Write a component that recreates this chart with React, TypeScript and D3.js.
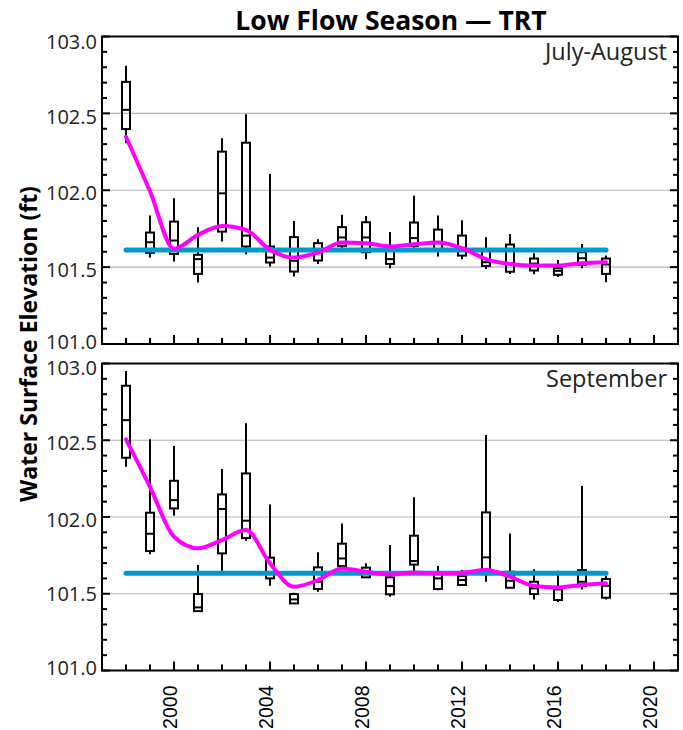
import React from "react";
import * as d3 from "d3";

const years = [1998, 1999, 2000, 2001, 2002, 2003, 2004, 2005, 2006, 2007, 2008, 2009, 2010, 2011, 2012, 2013, 2014, 2015, 2016, 2017, 2018];

// July-August box statistics
const jaMax = [102.81, 101.835, 101.948, 101.76, 102.338, 102.494, 102.106, 101.8, 101.682, 101.841, 101.833, 101.728, 101.965, 101.835, 101.805, 101.695, 101.716, 101.591, 101.547, 101.651, 101.575];
const jaQ3 = [102.705, 101.725, 101.796, 101.58, 102.251, 102.309, 101.634, 101.695, 101.656, 101.76, 101.792, 101.617, 101.79, 101.744, 101.705, 101.608, 101.647, 101.556, 101.493, 101.597, 101.556];
const jaMed = [102.523, 101.662, 101.673, 101.552, 101.98, 101.705, 101.562, 101.541, 101.601, 101.693, 101.693, 101.552, 101.689, 101.662, 101.621, 101.532, 101.526, 101.523, 101.476, 101.558, 101.517];
const jaQ1 = [102.398, 101.593, 101.586, 101.456, 101.731, 101.634, 101.53, 101.471, 101.543, 101.638, 101.597, 101.521, 101.638, 101.608, 101.575, 101.508, 101.47, 101.478, 101.45, 101.515, 101.456];
const jaMin = [102.305, 101.562, 101.536, 101.4, 101.666, 101.584, 101.504, 101.439, 101.52, 101.601, 101.552, 101.493, 101.619, 101.569, 101.552, 101.487, 101.456, 101.454, 101.435, 101.493, 101.402];
const jaSmooth = [102.348, 101.993, 101.62, 101.71, 101.768, 101.742, 101.612, 101.562, 101.595, 101.66, 101.656, 101.634, 101.649, 101.66, 101.623, 101.552, 101.52, 101.51, 101.51, 101.526, 101.532];
const jaRef = 101.612;

// September box statistics
const sepMax = [102.951, 102.506, 102.462, 101.687, 102.312, 102.61, 102.082, 101.507, 101.77, 101.958, 101.698, 101.817, 102.128, 101.68, 101.654, 102.534, 101.893, 101.659, 101.65, 102.202, 101.617];
const sepQ3 = [102.855, 102.028, 102.236, 101.498, 102.147, 102.284, 101.735, 101.498, 101.672, 101.826, 101.67, 101.607, 101.878, 101.637, 101.615, 102.03, 101.643, 101.578, 101.539, 101.654, 101.596];
const sepMed = [102.631, 101.891, 102.11, 101.411, 102.052, 101.976, 101.633, 101.463, 101.578, 101.73, 101.643, 101.55, 101.713, 101.6, 101.589, 101.737, 101.585, 101.535, 101.528, 101.578, 101.552];
const sepQ1 = [102.386, 101.778, 102.056, 101.387, 101.763, 101.863, 101.6, 101.437, 101.531, 101.68, 101.607, 101.496, 101.69, 101.531, 101.557, 101.628, 101.539, 101.498, 101.459, 101.55, 101.474];
const sepMin = [102.327, 101.757, 102.008, 101.387, 101.65, 101.845, 101.552, 101.437, 101.513, 101.654, 101.607, 101.48, 101.648, 101.522, 101.557, 101.578, 101.539, 101.463, 101.446, 101.528, 101.463];
const sepSmooth = [102.506, 102.197, 101.871, 101.796, 101.85, 101.915, 101.698, 101.546, 101.589, 101.665, 101.643, 101.626, 101.639, 101.633, 101.637, 101.654, 101.611, 101.55, 101.541, 101.557, 101.568];
const sepRef = 101.633;

const yTickValues = [101.0, 101.5, 102.0, 102.5, 103.0];
const yMinorValues = d3.range(1010, 1031).map((v) => v / 10);
const xMajorYears = [2000, 2004, 2008, 2012, 2016, 2020];
const xMinorYears = d3.range(1997, 2022);

const title = "Low Flow Season — TRT";
const yTitle = "Water Surface Elevation (ft)";

const W = 683;
const H = 730;
const LEFT = 102;
const RIGHT = 678;

const x = d3.scaleLinear().domain([1997, 2021]).range([LEFT, RIGHT]);

type PanelProps = {
  top: number;
  bottom: number;
  label: string;
  max: number[];
  q3: number[];
  med: number[];
  q1: number[];
  min: number[];
  smooth: number[];
  refVal: number;
  labelOffsets: number[];
};

function Panel(p: PanelProps) {
  const y = d3.scaleLinear().domain([101, 103]).range([p.bottom, p.top]);
  const smoothLine = d3
    .line<number>()
    .x((_, i) => x(years[i]))
    .y((d) => y(d))
    .curve(d3.curveMonotoneX);
  const bw = 8;
  const font = "'Open Sans', sans-serif";
  return (
    <g>
      {yTickValues.slice(1, 4).map((v) => (
        <line key={"g" + v} x1={LEFT} x2={RIGHT} y1={y(v)} y2={y(v)} stroke="#b3b3b3" strokeWidth={1.2} />
      ))}
      {yMinorValues.map((v) => {
        const major = Math.abs(v * 2 - Math.round(v * 2)) < 1e-6;
        const len = major ? 8 : 5;
        return (
          <g key={"yt" + v}>
            <line x1={LEFT} x2={LEFT + len} y1={y(v)} y2={y(v)} stroke="#000" strokeWidth={2} />
            <line x1={RIGHT - len} x2={RIGHT} y1={y(v)} y2={y(v)} stroke="#000" strokeWidth={2} />
          </g>
        );
      })}
      {xMinorYears.map((yr) => {
        const major = yr % 4 === 0;
        const len = major ? 9 : 6;
        return <line key={"xt" + yr} x1={x(yr)} x2={x(yr)} y1={p.bottom} y2={p.bottom - len} stroke="#000" strokeWidth={2} />;
      })}
      {yTickValues.map((v, i) => (
        <text
          key={"yl" + v}
          x={97}
          y={y(v) + p.labelOffsets[i]}
          textAnchor="end"
          dominantBaseline="central"
          fontFamily={font}
          fontSize={20}
          fill="#222"
        >
          {v.toFixed(1)}
        </text>
      ))}
      {years.map((yr, i) => (
        <g key={"b" + yr}>
          <line x1={x(yr)} x2={x(yr)} y1={y(p.max[i])} y2={y(p.q3[i])} stroke="#000" strokeWidth={2} />
          <line x1={x(yr)} x2={x(yr)} y1={y(p.q1[i])} y2={y(p.min[i])} stroke="#000" strokeWidth={2} />
          <rect
            x={x(yr) - bw / 2}
            y={y(p.q3[i])}
            width={bw}
            height={Math.max(0, y(p.q1[i]) - y(p.q3[i]))}
            fill="none"
            stroke="#000"
            strokeWidth={2}
          />
          <line x1={x(yr) - bw / 2} x2={x(yr) + bw / 2} y1={y(p.med[i])} y2={y(p.med[i])} stroke="#000" strokeWidth={2} />
        </g>
      ))}
      <line
        x1={x(years[0])}
        x2={x(years[years.length - 1])}
        y1={y(p.refVal)}
        y2={y(p.refVal)}
        stroke="#0099cc"
        strokeWidth={5}
        strokeLinecap="round"
      />
      <path d={smoothLine(p.smooth) || ""} fill="none" stroke="#ff00ff" strokeWidth={4} strokeLinecap="round" />
      <rect x={LEFT} y={p.top} width={RIGHT - LEFT} height={p.bottom - p.top} fill="none" stroke="#000" strokeWidth={2} />
      <text x={667} y={p.top + 23} textAnchor="end" fontFamily={font} fontSize={23.5} fill="#222">
        {p.label}
      </text>
    </g>
  );
}

export default function App() {
  const bottomAxis = 670.5;
  return (
    <svg width={W} height={H} style={{ position: "absolute", left: 0, top: 0, background: "#fff" }}>
      <rect x={0} y={0} width={W} height={H} fill="#fff" />
      <text x={391} y={30} textAnchor="middle" fontFamily="'Open Sans', sans-serif" fontWeight="bold" fontSize={26.5} fill="#000">
        {title}
      </text>
      <text
        transform={`translate(37, 344) rotate(-90)`}
        textAnchor="middle"
        fontFamily="'Open Sans', sans-serif"
        fontWeight="bold"
        fontSize={23}
        fill="#000"
      >
        {yTitle}
      </text>
      <Panel
        top={36.5}
        bottom={344}
        label="July-August"
        max={jaMax}
        q3={jaQ3}
        med={jaMed}
        q1={jaQ1}
        min={jaMin}
        smooth={jaSmooth}
        refVal={jaRef}
        labelOffsets={[-3, 2, 2, 3, 5]}
      />
      <Panel
        top={363.5}
        bottom={bottomAxis}
        label="September"
        max={sepMax}
        q3={sepQ3}
        med={sepMed}
        q1={sepQ1}
        min={sepMin}
        smooth={sepSmooth}
        refVal={sepRef}
        labelOffsets={[-3, 0, 2, 2, 4]}
      />
      {xMajorYears.map((yr) => (
        <text
          key={"xl" + yr}
          transform={`translate(${x(yr) + 3}, ${bottomAxis + 15}) rotate(-90)`}
          textAnchor="end"
          fontFamily="'Liberation Sans', Arial, sans-serif"
          fontSize={19.5}
          fill="#000"
        >
          {yr}
        </text>
      ))}
    </svg>
  );
}
